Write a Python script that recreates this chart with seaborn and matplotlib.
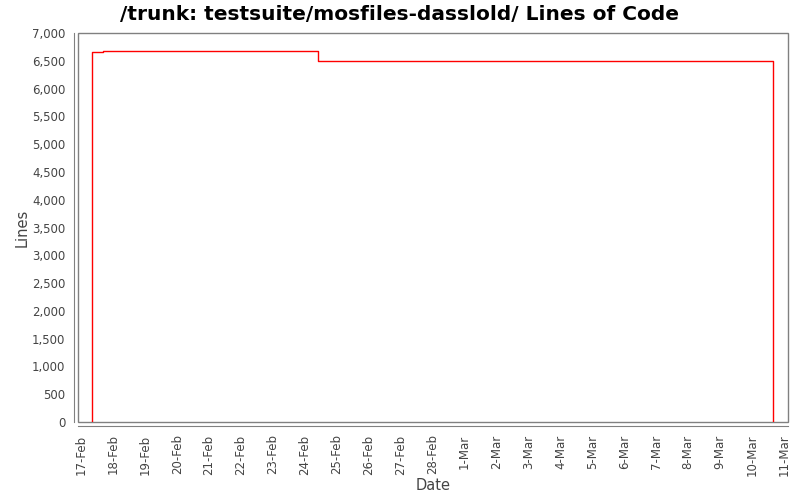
import pandas as pd
import matplotlib
matplotlib.use('Agg')
import matplotlib.pyplot as plt
import matplotlib.dates as mdates
import matplotlib.ticker as mticker
from matplotlib.patches import Rectangle
import seaborn as sns

# Lines of code over time (step series)
times = ['2009-02-17 08:00', '2009-02-17 08:00', '2009-02-17 16:00',
         '2009-02-24 09:30', '2009-03-10 16:00', '2009-03-10 16:00']
lines = [0, 6665, 6685, 6505, 6505, 0]

title = '/trunk: testsuite/mosfiles-dasslold/ Lines of Code'

df = pd.DataFrame({'Date': pd.to_datetime(times), 'Lines': lines})

sns.set_style('white')
plt.rcParams['font.family'] = ['DejaVu Sans']

fig = plt.figure(figsize=(8, 5), dpi=100)
ax = fig.add_axes([0.0975, 0.156, 0.8875, 0.778])

sns.lineplot(data=df, x='Date', y='Lines', ax=ax, estimator=None, sort=False,
             drawstyle='steps-post', color='red', linewidth=1.0)

ax.set_xlim(pd.Timestamp('2009-02-16 21:30'), pd.Timestamp('2009-03-11 03:00'))
ax.set_ylim(0, 7000)

ax.xaxis.set_major_locator(mdates.DayLocator())
ax.xaxis.set_major_formatter(mdates.DateFormatter('%-d-%b'))
ax.yaxis.set_major_locator(mticker.MultipleLocator(500))
ax.yaxis.set_major_formatter(mticker.StrMethodFormatter('{x:,.0f}'))

gray = '#808080'
for side in ['top', 'right']:
    ax.spines[side].set_visible(False)
for side in ['left', 'bottom']:
    ax.spines[side].set_color(gray)
    ax.spines[side].set_position(('outward', 3))
ax.add_patch(Rectangle((0, 0), 1, 1, transform=ax.transAxes, fill=False,
                       edgecolor=gray, linewidth=1.0, clip_on=False))

ax.tick_params(axis='both', direction='out', length=4, width=1, color=gray,
               labelsize=8.5, labelcolor='#444444', pad=2)
ax.tick_params(axis='x', rotation=90)
ax.set_xlabel('Date', fontsize=10.5, color='#444444', labelpad=1)
ax.set_ylabel('Lines', fontsize=10.5, color='#444444', labelpad=2)
fig.suptitle(title, fontsize=14.5, fontweight='bold', color='black', y=0.99)

fig.savefig('out.png', dpi=100)
